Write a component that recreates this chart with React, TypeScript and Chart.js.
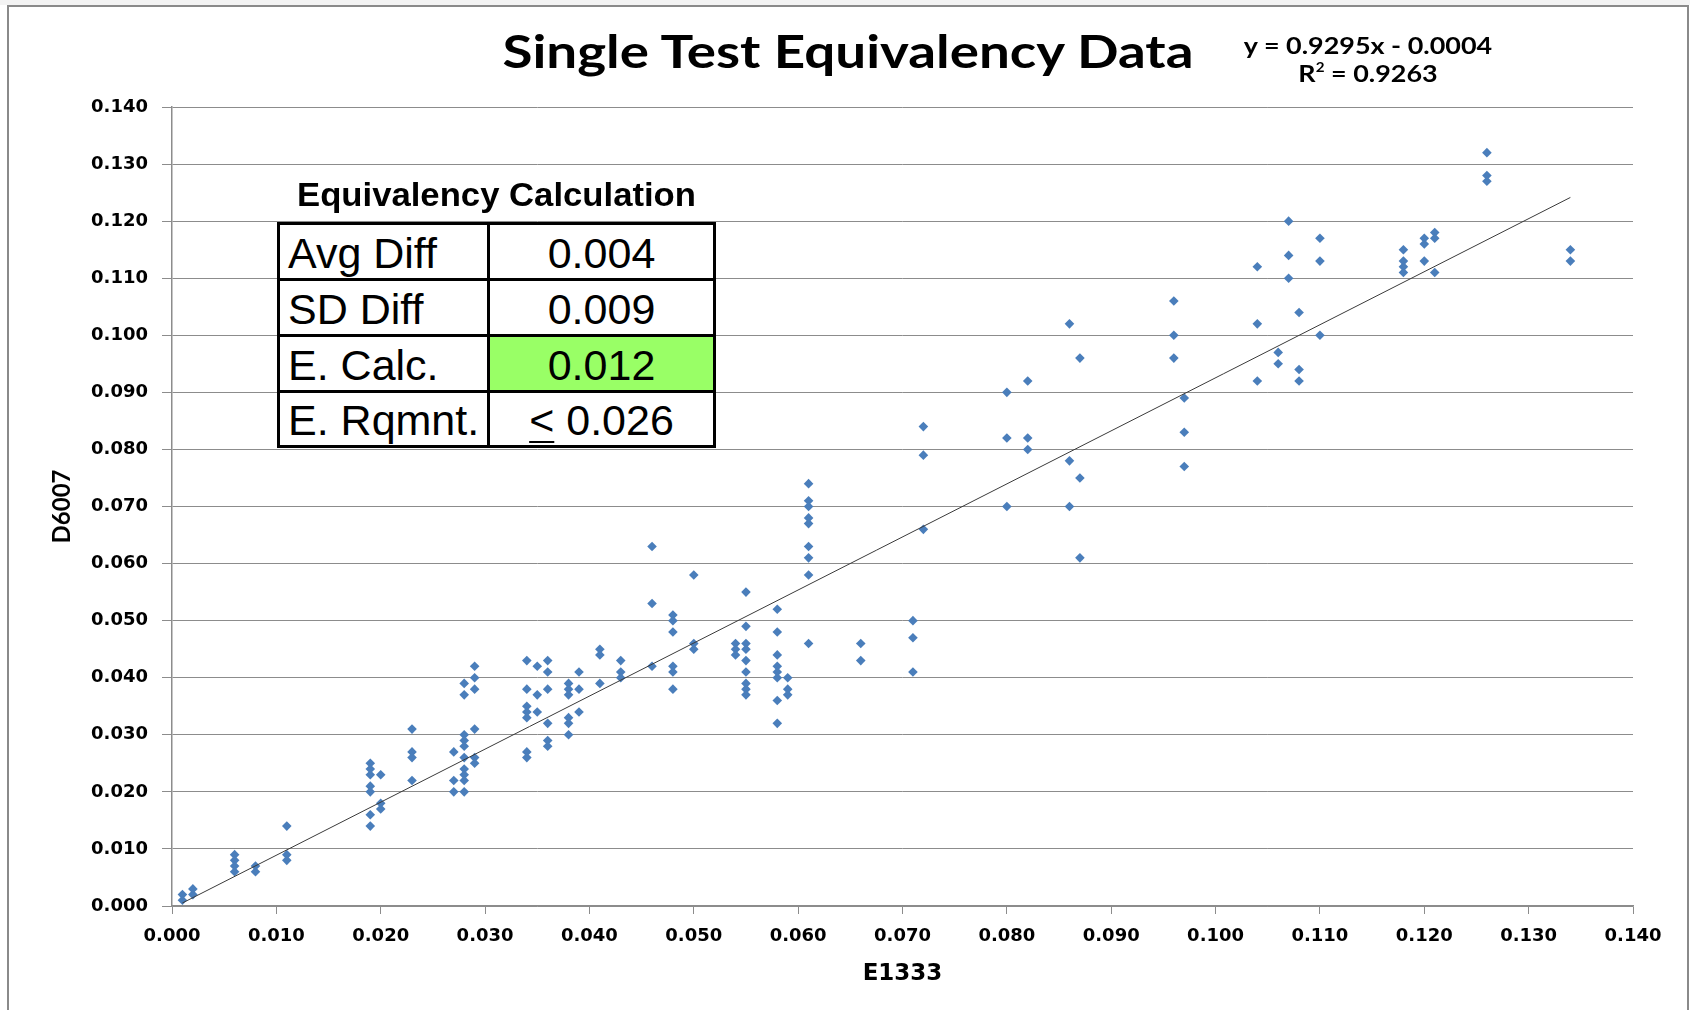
import React, { useEffect, useRef } from "react";
import { Chart, registerables } from "chart.js";

Chart.register(...registerables);

// ---------- data ----------
const chartTitle = "Single Test Equivalency Data";
const xAxisTitle = "E1333";
const yAxisTitle = "D6007";

const axisMin = 0;
const axisMax = 0.14;
const axisStep = 0.01;

// E1333 values (x) and the D6007 results (y) measured at each one
const e1333Groups = [
  0.001, 0.002, 0.006, 0.008, 0.011, 0.019, 0.02, 0.023, 0.027, 0.028, 0.029,
  0.034, 0.035, 0.036, 0.038, 0.039, 0.041, 0.043, 0.046, 0.048, 0.05, 0.054,
  0.055, 0.058, 0.059, 0.061, 0.066, 0.071, 0.072, 0.08, 0.082, 0.086, 0.087,
  0.096, 0.097, 0.104, 0.106, 0.107, 0.108, 0.11, 0.118, 0.12, 0.121, 0.126, 0.134,
];
const d6007ByGroup = [
  [0.001, 0.002],
  [0.002, 0.003],
  [0.009, 0.008, 0.007, 0.006],
  [0.007, 0.006],
  [0.014, 0.009, 0.008],
  [0.025, 0.024, 0.023, 0.021, 0.02, 0.016, 0.014],
  [0.023, 0.018, 0.017],
  [0.031, 0.027, 0.026, 0.022],
  [0.027, 0.022, 0.02],
  [0.039, 0.037, 0.03, 0.029, 0.028, 0.026, 0.024, 0.023, 0.022, 0.02],
  [0.042, 0.04, 0.038, 0.031, 0.026, 0.025],
  [0.043, 0.038, 0.035, 0.034, 0.033, 0.027, 0.026],
  [0.042, 0.037, 0.034],
  [0.043, 0.041, 0.038, 0.032, 0.029, 0.028],
  [0.039, 0.038, 0.037, 0.033, 0.032, 0.03],
  [0.041, 0.038, 0.034],
  [0.045, 0.044, 0.039],
  [0.043, 0.041, 0.04],
  [0.063, 0.053, 0.042],
  [0.051, 0.05, 0.048, 0.042, 0.041, 0.038],
  [0.058, 0.046, 0.045],
  [0.046, 0.045, 0.044],
  [0.055, 0.049, 0.046, 0.045, 0.043, 0.041, 0.039, 0.038, 0.037],
  [0.052, 0.048, 0.044, 0.042, 0.041, 0.04, 0.036, 0.032],
  [0.04, 0.038, 0.037],
  [0.074, 0.071, 0.07, 0.068, 0.067, 0.063, 0.061, 0.058, 0.046],
  [0.046, 0.043],
  [0.05, 0.047, 0.041],
  [0.084, 0.079, 0.066],
  [0.09, 0.082, 0.07],
  [0.092, 0.082, 0.08],
  [0.102, 0.078, 0.07],
  [0.096, 0.075, 0.061],
  [0.106, 0.1, 0.096],
  [0.089, 0.083, 0.077],
  [0.112, 0.102, 0.092],
  [0.097, 0.095],
  [0.12, 0.114, 0.11],
  [0.104, 0.094, 0.092],
  [0.117, 0.113, 0.1],
  [0.115, 0.113, 0.112, 0.111],
  [0.117, 0.116, 0.113],
  [0.118, 0.117, 0.111],
  [0.132, 0.128, 0.127],
  [0.115, 0.113],
];

// linear trendline shown in the chart
const trendSlope = 0.9295;
const trendIntercept = -0.0004;
const rSquared = 0.9263;

// equivalency table
const tableTitle = "Equivalency Calculation";
const tableLabels = ["Avg Diff", "SD Diff", "E. Calc.", "E. Rqmnt."];
const tableValues = ["0.004", "0.009", "0.012", "0.026"];
const highlightedRow = 2;
const requirementRow = 3;

// ---------- styles ----------
const pointColor = "#4A7EBB";
const gridColor = "#8C8C8C";
const calibriLike = "Lato, 'Open Sans', sans-serif";
const wideBold = "'DejaVu Sans', Verdana, sans-serif";
const arialLike = "'Liberation Sans', Arial, sans-serif";

export default function App() {
  const canvasRef = useRef<HTMLCanvasElement | null>(null);

  useEffect(() => {
    if (!canvasRef.current) return;
    const points: { x: number; y: number }[] = [];
    e1333Groups.forEach((x, i) => {
      d6007ByGroup[i].forEach((y) => points.push({ x, y }));
    });
    const xs = points.map((p) => p.x);
    const xLo = Math.min(...xs);
    const xHi = Math.max(...xs);
    const trend = [xLo, xHi].map((x) => ({ x, y: trendSlope * x + trendIntercept }));

    const chart = new Chart(canvasRef.current, {
      type: "scatter",
      data: {
        datasets: [
          {
            type: "line",
            label: "Linear trend",
            data: trend,
            borderColor: "#3A3A3A",
            borderWidth: 1,
            pointRadius: 0,
            fill: false,
            tension: 0,
          } as any,
          {
            label: "D6007 vs E1333",
            data: points,
            pointStyle: "rectRot",
            pointRadius: 4.8,
            pointHoverRadius: 4.8,
            backgroundColor: pointColor,
            borderColor: pointColor,
            borderWidth: 0,
          },
        ],
      },
      options: {
        responsive: false,
        animation: false,
        devicePixelRatio: 1,
        layout: { padding: { top: 107, right: 57, left: 0, bottom: 0 } },
        plugins: {
          legend: { display: false },
          tooltip: { enabled: false },
          title: { display: false },
        },
        scales: {
          x: {
            type: "linear",
            min: axisMin,
            max: axisMax,
            afterFit: (scale: any) => {
              scale.height = 104;
            },
            ticks: {
              stepSize: axisStep,
              callback: (v: any) => Number(v).toFixed(3),
              color: "#000",
              font: { family: wideBold, size: 18, weight: "bold" },
              padding: 12,
              maxRotation: 0,
              autoSkip: false,
            },
            grid: {
              drawOnChartArea: false,
              drawTicks: true,
              tickLength: 8,
              tickColor: gridColor,
            },
            border: { display: true, color: gridColor, width: 1.5 },
            title: {
              display: true,
              text: xAxisTitle,
              color: "#000",
              font: { family: wideBold, size: 23, weight: "bold" },
              padding: { top: 0, bottom: 22 },
            },
          },
          y: {
            type: "linear",
            min: axisMin,
            max: axisMax,
            afterFit: (scale: any) => {
              scale.width = 172;
            },
            ticks: {
              stepSize: axisStep,
              callback: (v: any) => Number(v).toFixed(3),
              color: "#000",
              font: { family: wideBold, size: 18, weight: "bold" },
              padding: 14,
              autoSkip: false,
            },
            grid: {
              color: gridColor,
              lineWidth: 1,
              drawTicks: true,
              tickLength: 10,
              tickColor: gridColor,
            },
            border: { display: true, color: gridColor, width: 1.5 },
            title: {
              display: true,
              text: yAxisTitle,
              color: "#000",
              font: { family: calibriLike, size: 24, weight: "bold" },
              padding: { top: 48, bottom: 0 },
            },
          },
        },
      },
    });
    return () => chart.destroy();
  }, []);

  const colX = [277, 487, 713];
  const rowY = [222, 278, 334, 390, 445];
  const b = 3;

  return (
    <div
      style={{
        position: "absolute",
        left: 0,
        top: 0,
        width: 1690,
        height: 1010,
        overflow: "hidden",
        background: "#fff",
      }}
    >
      <div style={{ position: "absolute", left: 0, top: 0, width: 1690, height: 5, background: "#F3F3F3" }} />
      <div
        style={{
          position: "absolute",
          left: 7,
          top: 5,
          width: 1682,
          height: 1100,
          borderTop: "2px solid #8A8A8A",
          borderLeft: "2px solid #8A8A8A",
          borderRight: "2px solid #8A8A8A",
          boxSizing: "border-box",
        }}
      />
      <canvas
        ref={canvasRef}
        width={1690}
        height={1010}
        style={{ position: "absolute", left: 0, top: 0, width: 1690, height: 1010 }}
      />
      <div
        style={{
          position: "absolute",
          left: 348,
          top: 28,
          width: 1000,
          textAlign: "center",
          fontFamily: calibriLike,
          fontWeight: 700,
          fontSize: 46,
          lineHeight: "46px",
          color: "#000",
          whiteSpace: "nowrap",
          transform: "scaleX(1.19)",
          transformOrigin: "50% 50%",
        }}
      >
        {chartTitle}
      </div>
      <div
        style={{
          position: "absolute",
          left: 1218,
          top: 31,
          width: 300,
          textAlign: "center",
          fontFamily: calibriLike,
          fontWeight: 700,
          fontSize: 23,
          lineHeight: "28px",
          color: "#000",
          whiteSpace: "nowrap",
          transform: "scaleX(1.17)",
          transformOrigin: "50% 50%",
        }}
      >
        <div>{`y = ${trendSlope}x - ${Math.abs(trendIntercept).toFixed(4)}`}</div>
        <div>
          R<sup style={{ fontSize: 13, verticalAlign: "top", lineHeight: "16px" }}>2</sup>
          {` = ${rSquared}`}
        </div>
      </div>
      <div
        style={{
          position: "absolute",
          left: colX[0],
          top: 177,
          width: colX[2] + b - colX[0],
          textAlign: "center",
          fontFamily: arialLike,
          fontWeight: 700,
          fontSize: 34,
          lineHeight: "34px",
          color: "#000",
          whiteSpace: "nowrap",
          transform: "scaleX(1.02)",
          transformOrigin: "50% 50%",
        }}
      >
        {tableTitle}
      </div>
      {tableLabels.map((label, r) => (
        <React.Fragment key={label}>
          <div
            style={{
              position: "absolute",
              left: colX[0],
              top: rowY[r],
              width: colX[1] - colX[0] + b,
              height: rowY[r + 1] - rowY[r] + b,
              border: `${b}px solid #000`,
              boxSizing: "border-box",
              background: "#fff",
              display: "flex",
              alignItems: "center",
              paddingLeft: 8,
              paddingTop: 3,
              fontFamily: arialLike,
              fontSize: 43,
              lineHeight: "43px",
              color: "#000",
              whiteSpace: "nowrap",
            }}
          >
            {label}
          </div>
          <div
            style={{
              position: "absolute",
              left: colX[1],
              top: rowY[r],
              width: colX[2] - colX[1] + b,
              height: rowY[r + 1] - rowY[r] + b,
              border: `${b}px solid #000`,
              boxSizing: "border-box",
              background: r === highlightedRow ? "#99FF66" : "#fff",
              display: "flex",
              alignItems: "center",
              justifyContent: "center",
              paddingTop: 3,
              fontFamily: arialLike,
              fontSize: 43,
              lineHeight: "43px",
              color: "#000",
              whiteSpace: "pre",
            }}
          >
            {r === requirementRow ? (
              <>
                <span style={{ textDecoration: "underline", textDecorationThickness: 2, textUnderlineOffset: 6 }}>
                  {"<"}
                </span>
                {" " + tableValues[r]}
              </>
            ) : (
              tableValues[r]
            )}
          </div>
        </React.Fragment>
      ))}
    </div>
  );
}
